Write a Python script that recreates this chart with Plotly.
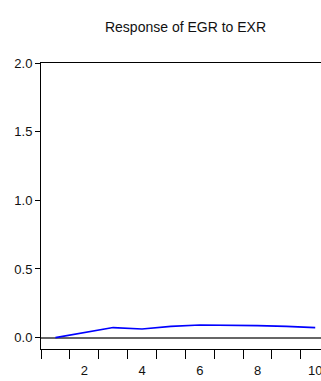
import plotly.graph_objects as go

periods = [1, 2, 3, 4, 5, 6, 7, 8, 9, 10]
response = [0.0, 0.036, 0.073, 0.063, 0.082, 0.092, 0.092, 0.087, 0.082, 0.073]
x_label_vals = [2, 4, 6, 8, 10]
x_label_text = ["2", "4", "6", "8", "10"]
x_tick_bounds = [0.5, 1.5, 2.5, 3.5, 4.5, 5.5, 6.5, 7.5, 8.5, 9.5]
y_tick_vals = [0.0, 0.5, 1.0, 1.5, 2.0]
y_tick_text = ["0.0", "0.5", "1.0", "1.5", "2.0"]
title_text = "Response of EGR to EXR"

FONT = "Arial, Liberation Sans, sans-serif"

fig = go.Figure()
fig.add_trace(go.Scatter(x=periods, y=response, mode="lines",
                         line=dict(color="#0000FF", width=1.6),
                         showlegend=False, hoverinfo="skip"))

fig.update_layout(
    width=321, height=381,
    margin=dict(l=41, r=0, t=63, b=32),
    paper_bgcolor="white", plot_bgcolor="white",
    font=dict(family=FONT, size=13, color="#111111"),
    title=dict(text=title_text, x=185.5/321, xanchor="center",
               y=1 - 27/381, yanchor="middle",
               font=dict(family=FONT, size=14, color="#111111")),
    xaxis=dict(range=[0.5, 10.2], showgrid=False, zeroline=False,
               showline=True, linecolor="black", linewidth=1, mirror=True,
               tickmode="array", tickvals=x_label_vals, ticktext=x_label_text,
               ticks="outside", ticklen=9, tickcolor="rgba(0,0,0,0)",
               ticklabeloverflow="allow",
               minor=dict(tickmode="array", tickvals=x_tick_bounds,
                          ticks="outside", ticklen=9, tickcolor="black",
                          tickwidth=1, showgrid=False),
               tickfont=dict(family=FONT, size=13, color="#111111")),
    yaxis=dict(range=[-0.083, 2.0], showgrid=False,
               zeroline=True, zerolinecolor="#666666", zerolinewidth=2,
               showline=True, linecolor="black", linewidth=1, mirror=False,
               tickmode="array", tickvals=y_tick_vals, ticktext=y_tick_text,
               ticks="outside", ticklen=5, tickcolor="black",
               tickfont=dict(family=FONT, size=13, color="#111111")),
)

fig.write_html("out.html")
